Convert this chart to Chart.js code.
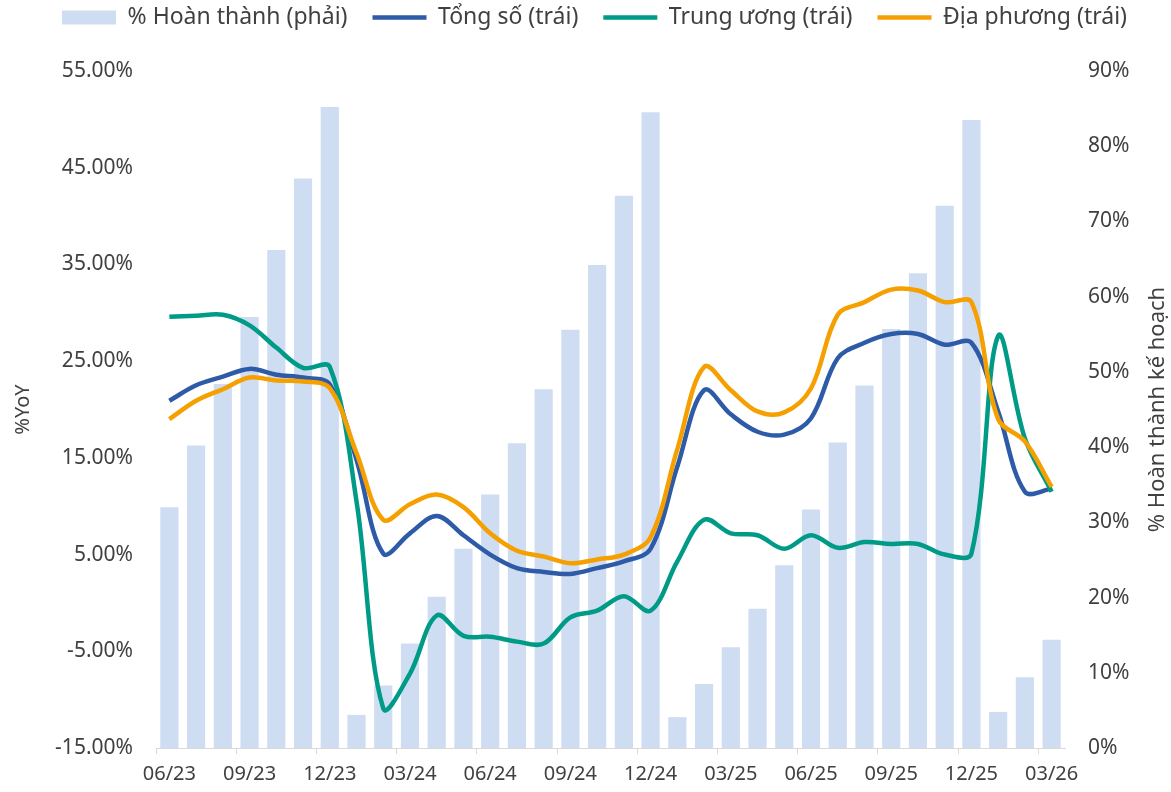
<!DOCTYPE html>
<html>
<head>
<meta charset="utf-8">
<script src="https://cdn.jsdelivr.net/npm/chart.js@4.4.1/dist/chart.umd.min.js"></script>
<style>
  html, body { margin: 0; padding: 0; background: #fff; }
  #wrap { width: 1171px; height: 792px; position: relative; }
</style>
</head>
<body>
<div id="wrap"><canvas id="chart"></canvas></div>
<script>
// months, 06/23 -> 03/26
const months = ['06/23','07/23','08/23','09/23','10/23','11/23','12/23','01/24','02/24','03/24','04/24','05/24',
    '06/24','07/24','08/24','09/24','10/24','11/24','12/24','01/25','02/25','03/25','04/25','05/25',
    '06/25','07/25','08/25','09/25','10/25','11/25','12/25','01/26','02/26','03/26'];

// % hoàn thành kế hoạch (right axis)
const completion = [32.0, 40.2, 48.4, 57.3, 66.2, 75.7, 85.2, 4.4, 8.3, 13.9, 20.1, 26.5,
    33.7, 40.5, 47.7, 55.6, 64.2, 73.4, 84.5, 4.1, 8.5, 13.4, 18.5, 24.3,
    31.7, 40.6, 48.2, 55.7, 63.1, 72.1, 83.5, 4.8, 9.4, 14.4];

// %YoY (left axis)
const total = [20.9, 22.5, 23.4, 24.2, 23.6, 23.3, 22.6, 14.8, 5.1, 7.2, 9.0, 7.0,
    5.0, 3.6, 3.2, 3.0, 3.6, 4.3, 5.6, 14.1, 22.0, 19.5, 17.7, 17.4,
    19.1, 25.3, 26.9, 27.8, 27.8, 26.7, 26.9, 19.8, 11.5, 11.8];

const central = [29.6, 29.7, 29.8, 28.7, 26.4, 24.3, 24.4, 10.5, -10.9, -7.3, -1.3, -3.4,
    -3.5, -4.0, -4.2, -1.5, -0.8, 0.7, -0.8, 4.3, 8.6, 7.2, 7.0, 5.6,
    7.0, 5.7, 6.3, 6.1, 6.1, 5.0, 5.1, 27.6, 17.0, 11.5];

const local = [19.0, 20.9, 22.1, 23.3, 23.0, 22.9, 22.2, 15.5, 8.6, 10.2, 11.2, 9.9,
    7.2, 5.4, 4.8, 4.1, 4.5, 5.0, 6.8, 15.9, 24.4, 22.0, 19.8, 19.7,
    22.2, 29.8, 31.1, 32.4, 32.3, 31.1, 31.1, 19.0, 16.7, 12.0];

const FONT = "'Noto Sans', sans-serif";
const TEXT = '#404040';
const AXIS = '#d9d9d9';

// fixed plot box
const PLOT = { left: 156, right: 1065, top: 71, bottom: 748 };
const LEGEND_SHIFT = { x: 9, y: -19 };

const legendBox = {
    id: 'legendBox',
    beforeInit(chart) {
        const lg = chart.legend;
        const fit = lg.fit;
        lg.fit = function () {
            fit.call(lg);
            this.height = PLOT.top;
        };
        const draw = lg.draw;
        lg.draw = function () {
            this.ctx.save();
            this.ctx.translate(LEGEND_SHIFT.x, LEGEND_SHIFT.y);
            draw.call(lg);
            this.ctx.restore();
        };
    }
};

// both titles read bottom-to-top
const axisTitles = {
    id: 'axisTitles',
    afterDraw(chart) {
        const ctx = chart.ctx;
        const midY = (chart.chartArea.top + chart.chartArea.bottom) / 2;
        ctx.save();
        ctx.fillStyle = TEXT;
        ctx.textAlign = 'center';
        ctx.textBaseline = 'middle';
        [[23, '%YoY', 20], [1158, '% Hoàn thành kế hoạch', 22]].forEach(([x, txt, size]) => {
            ctx.save();
            ctx.font = `${size}px ${FONT}`;
            ctx.translate(x, midY);
            ctx.rotate(-Math.PI / 2);
            ctx.fillText(txt, 0, 0);
            ctx.restore();
        });
        ctx.restore();
    }
};

const lineDs = (label, data, color, order) => ({
    type: 'line',
    label: label,
    data: data,
    yAxisID: 'yL',
    borderColor: color,
    backgroundColor: color,
    borderWidth: 4.5,
    pointRadius: 0,
    tension: 0.35,
    fill: false,
    order: order,
    pointStyle: 'line'
});

new Chart(document.getElementById('chart'), {
    data: {
        labels: months,
        datasets: [
            {
                type: 'bar',
                label: '% Hoàn thành (phải)',
                data: completion,
                yAxisID: 'yR',
                backgroundColor: '#cfddf2',
                borderWidth: 0,
                barPercentage: 0.68,
                categoryPercentage: 1,
                order: 4,
                pointStyle: 'rect'
            },
            lineDs('Tổng số (trái)', total, '#2e5ba8', 3),
            lineDs('Trung ương (trái)', central, '#009b86', 2),
            lineDs('Địa phương (trái)', local, '#f5a000', 1)
        ]
    },
    options: {
        responsive: true,
        maintainAspectRatio: false,
        animation: false,
        layout: { padding: 0 },
        plugins: {
            tooltip: { enabled: false },
            legend: {
                position: 'top',
                labels: {
                    usePointStyle: true,
                    pointStyleWidth: 54,
                    boxWidth: 54,
                    boxHeight: 14,
                    padding: 25,
                    color: TEXT,
                    font: { family: FONT, size: 23 },
                    sort: (a, b) => a.datasetIndex - b.datasetIndex
                }
            }
        },
        scales: {
            x: {
                offset: true,
                grid: {
                    offset: true,
                    drawOnChartArea: false,
                    tickLength: 6,
                    color: (c) => (c.index % 3 === 0 ? AXIS : 'rgba(0,0,0,0)')
                },
                border: { display: true, color: AXIS },
                ticks: {
                    autoSkip: false,
                    maxRotation: 0,
                    padding: 8,
                    color: TEXT,
                    font: { family: FONT, size: 20 },
                    callback: (v, i) => (i % 3 === 0 ? months[i] : '')
                },
                afterFit: (s) => { s.height = 792 - PLOT.bottom; }
            },
            yL: {
                position: 'left',
                min: -15,
                max: 55,
                grid: { display: false, drawTicks: false },
                border: { display: false },
                ticks: {
                    stepSize: 10,
                    padding: 23,
                    color: TEXT,
                    font: { family: FONT, size: 21 },
                    callback: (v) => v.toFixed(2) + '%'
                },
                afterFit: (s) => { s.width = PLOT.left; }
            },
            yR: {
                position: 'right',
                min: 0,
                max: 90,
                grid: { display: false, drawTicks: false },
                border: { display: false },
                ticks: {
                    stepSize: 10,
                    padding: 23,
                    color: TEXT,
                    font: { family: FONT, size: 21 },
                    callback: (v) => v + '%'
                },
                afterFit: (s) => { s.width = 1171 - PLOT.right; }
            }
        }
    },
    plugins: [legendBox, axisTitles]
});
</script>
</body>
</html>
